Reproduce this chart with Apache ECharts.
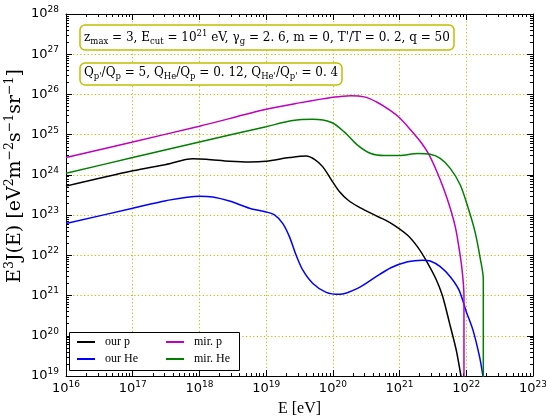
<!DOCTYPE html>
<html>
<head>
<meta charset="utf-8">
<script src="https://cdn.jsdelivr.net/npm/echarts@6/dist/echarts.min.js"></script>
<style>
  html, body { margin: 0; padding: 0; background: #fff; }
  #chart { width: 546px; height: 417px; }
</style>
</head>
<body>
<div id="chart"></div>
<script>
// Energy grid (eV) and E^3 J(E) values (eV^2 m^-2 s^-1 sr^-1) for each spectrum
const energyOurP = [1e16, 1e17, 3.16e17, 7.94e17, 1.26e18, 2.82e18, 5.62e18, 1e19, 2.24e19, 3.98e19,
  5.37e19, 7.08e19, 9.55e19, 1.26e20, 1.70e20, 2.40e20, 3.39e20, 4.79e20, 7.59e20, 1.32e21,
  1.86e21, 2.57e21, 3.47e21, 4.37e21, 5.62e21, 7.08e21, 8.32e21, 8.91e21];
const fluxOurP = [5.25e23, 1.26e24, 1.82e24, 2.51e24, 2.45e24, 2.19e24, 2.09e24, 2.19e24, 2.69e24, 2.95e24,
  2.40e24, 1.58e24, 7.41e23, 3.80e23, 2.34e23, 1.62e23, 1.20e23, 9.12e22, 6.17e22, 3.16e22,
  1.62e22, 6.92e21, 2.69e21, 1.02e21, 2.04e20, 4.37e19, 1e19, 5e18];

const energyOurHe = [1e16, 1e17, 3.16e17, 1e18, 1.58e18, 2.82e18, 5.62e18, 1e19, 1.35e19, 1.78e19,
  2.24e19, 2.82e19, 3.55e19, 5.01e19, 7.94e19, 1.26e20, 2.34e20, 4.17e20, 7.41e20, 1.32e21,
  2.19e21, 2.88e21, 4.07e21, 5.75e21, 7.76e21, 1e22, 1.26e22, 1.58e22, 1.78e22, 1.91e22];
const fluxOurHe = [6.17e22, 1.48e23, 2.29e23, 2.95e23, 2.82e23, 2.24e23, 1.48e23, 1.20e23, 1.0e23, 6.17e22,
  2.88e22, 1.0e22, 4.27e21, 2.0e21, 1.20e21, 1.07e21, 1.51e21, 2.75e21, 4.90e21, 6.92e21,
  7.59e21, 7.24e21, 5.25e21, 2.95e21, 1.38e21, 3.98e20, 1.38e20, 3.02e19, 1e19, 5e18];

const energyMirP = [1e16, 1e17, 1e18, 1e19, 3.16e19, 1e20, 1.86e20, 2.95e20, 4.68e20, 7.41e20,
  1e21, 1.48e21, 2.09e21, 2.75e21, 3.63e21, 4.57e21, 5.75e21, 6.92e21, 7.94e21, 8.71e21,
  9.23e21, 9.23e21];
const fluxMirP = [2.69e24, 6.61e24, 1.62e25, 4.27e25, 6.17e25, 8.51e25, 9.33e25, 8.71e25, 6.31e25, 3.89e25,
  2.63e25, 1.29e25, 6.46e24, 3.24e24, 1.20e24, 4.57e23, 1.48e23, 4.68e22, 1.23e22, 3.89e21,
  1e21, 1e18];

const energyMirHe = [1e16, 1e17, 1e18, 1e19, 2.51e19, 5.01e19, 9.55e19, 1.48e20, 2.34e20, 3.72e20,
  5.89e20, 1e21, 1.86e21, 2.88e21, 4.07e21, 5.75e21, 8.13e21, 1.07e22, 1.35e22, 1.62e22,
  1.80e22, 1.80e22];
const fluxMirHe = [1.10e24, 2.69e24, 6.61e24, 1.58e25, 2.24e25, 2.40e25, 2.0e25, 1.17e25, 5.50e24, 3.39e24,
  3.02e24, 3.02e24, 3.39e24, 3.24e24, 2.57e24, 1.45e24, 5.62e23, 1.48e23, 3.89e22, 8.32e21,
  2.51e21, 1e18];

const seriesNames = ['our p', 'our He', 'mir. p', 'mir. He'];
const seriesColors = ['#000000', '#0000ff', '#bf00bf', '#008000'];

// Decade ticks (labelled) for both axes
const xTicks = [1e16, 1e17, 1e18, 1e19, 1e20, 1e21, 1e22, 1e23];
const yTicks = [1e19, 1e20, 1e21, 1e22, 1e23, 1e24, 1e25, 1e26, 1e27, 1e28];

function minorTicks(decades) {
  const out = [];
  for (let i = 0; i < decades.length - 1; i++) {
    for (let m = 2; m <= 9; m++) out.push(m * decades[i]);
  }
  return out;
}
const xMinor = minorTicks(xTicks);
const yMinor = minorTicks(yTicks);
// keep the last decade label inside the scale extent despite float rounding
function labelValues(ticks) {
  return ticks.map((v, i) => (i === ticks.length - 1 ? v * (1 - 1e-9) : v));
}

function pairs(xs, ys) { return xs.map((x, i) => [x, ys[i]]); }

const SERIF = '"DejaVu Serif", "Liberation Serif", serif';
const SANS = '"DejaVu Sans", sans-serif';
const GRID_COLOR = '#bfbf00';
const PLOT = { left: 66, right: 13, top: 14, bottom: 41 };

const tickRich = {
  b: { fontFamily: SANS, fontSize: 13, lineHeight: 18, color: '#000' },
  s: { fontFamily: SANS, fontSize: 9, lineHeight: 10, verticalAlign: 'top', color: '#000' }
};
function powLabel(v) {
  return '{b|10}{s|' + Math.round(Math.log10(v)) + '}';
}

const mathRich = {
  n: { fontFamily: SERIF, fontSize: 12, fontWeight: 'normal', lineHeight: 17, color: '#000' },
  sub: { fontFamily: SERIF, fontSize: 8.5, fontWeight: 'normal', lineHeight: 9, verticalAlign: 'bottom', color: '#000' },
  sup: { fontFamily: SERIF, fontSize: 8.5, fontWeight: 'normal', lineHeight: 9, verticalAlign: 'top', color: '#000' }
};

// Major-tick axis (grid 0): frame line, decade ticks, optional labels
function majorAxis(position, ticks, extra) {
  return Object.assign({
    type: 'log',
    logBase: 10,
    gridIndex: 0,
    position: position,
    min: ticks[0],
    max: ticks[ticks.length - 1],
    axisLine: { show: true, onZero: false, lineStyle: { color: '#000', width: 1 } },
    axisTick: { show: true, inside: true, length: 6, customValues: ticks, lineStyle: { color: '#000', width: 1 } },
    axisLabel: { show: false },
    splitLine: { show: false },
    minorTick: { show: false }
  }, extra || {});
}
// Minor-tick axis (grid 1, same rectangle): 2..9 ticks in each decade
function minorAxis(position, ticks, minors) {
  return {
    type: 'log',
    logBase: 10,
    gridIndex: 1,
    position: position,
    min: ticks[0],
    max: ticks[ticks.length - 1],
    axisLine: { show: false },
    axisTick: { show: true, inside: true, length: 3, customValues: minors, lineStyle: { color: '#000', width: 1 } },
    axisLabel: { show: false },
    splitLine: { show: false }
  };
}

const gridLineStyle = { color: GRID_COLOR, width: 1, type: [1.2, 2.4] };
const legendText = { fontFamily: '"Liberation Serif", serif', fontSize: 12, lineHeight: 14, color: '#000', padding: [0, 0, 0, 5] };

const option = {
  animation: false,
  backgroundColor: '#fff',
  grid: [
    Object.assign({ containLabel: false, outerBoundsMode: 'none' }, PLOT),
    Object.assign({ containLabel: false, outerBoundsMode: 'none' }, PLOT)
  ],
  xAxis: [
    majorAxis('bottom', xTicks, {
      name: 'E [eV]',
      nameLocation: 'middle',
      nameGap: 24,
      nameTextStyle: { fontFamily: '"Liberation Serif", serif', fontSize: 16, color: '#000' },
      axisLabel: {
        show: true, customValues: labelValues(xTicks), formatter: powLabel, rich: tickRich, margin: 4,
        showMinLabel: true, showMaxLabel: true, hideOverlap: false
      },
      splitLine: { show: true, lineStyle: gridLineStyle }
    }),
    majorAxis('top', xTicks),
    minorAxis('bottom', xTicks, xMinor),
    minorAxis('top', xTicks, xMinor)
  ],
  yAxis: [
    majorAxis('left', yTicks, {
      axisLabel: {
        show: true, customValues: labelValues(yTicks), formatter: powLabel, rich: tickRich, margin: 7,
        showMinLabel: true, showMaxLabel: true, hideOverlap: false
      },
      splitLine: { show: true, lineStyle: gridLineStyle }
    }),
    majorAxis('right', yTicks),
    minorAxis('left', yTicks, yMinor),
    minorAxis('right', yTicks, yMinor)
  ],
  title: [
    {
      text: "{n|z}{sub|max}{n| = 3, E}{sub|cut}{n| = 10}{sup|21}{n| eV, γ}{sub|g}{n| = 2. 6, m = 0, T'/T = 0. 2, q = 50}",
      left: 80, top: 25,
      padding: [4, 4, 4, 4],
      backgroundColor: '#fff',
      borderColor: GRID_COLOR,
      borderWidth: 1.5,
      borderRadius: 5,
      textStyle: { fontWeight: 'normal', rich: mathRich }
    },
    {
      text: "{n|Q}{sub|p'}{n|/Q}{sub|p}{n| = 5, Q}{sub|He}{n|/Q}{sub|p}{n| = 0. 12, Q}{sub|He'}{n|/Q}{sub|p'}{n| = 0. 4}",
      left: 80, top: 60,
      padding: [4, 4, 4, 4],
      backgroundColor: '#fff',
      borderColor: GRID_COLOR,
      borderWidth: 1.5,
      borderRadius: 5,
      textStyle: { fontWeight: 'normal', rich: mathRich }
    }
  ],
  graphic: [
    {
      // y-axis title, rotated to read bottom-to-top
      type: 'text',
      x: 15,
      y: 176,
      rotation: Math.PI / 2,
      style: {
        text: '{n|E}{sup|3}{n|J(E) [eV}{sup|2}{n|m}{sup|−2}{n|s}{sup|−1}{n|sr}{sup|−1}{n|]}',
        align: 'center',
        verticalAlign: 'middle',
        rich: {
          n: { fontFamily: SERIF, fontSize: 19, lineHeight: 23, fill: '#000' },
          sup: { fontFamily: SERIF, fontSize: 12.5, lineHeight: 12, verticalAlign: 'top', fill: '#000' }
        }
      }
    },
    {
      type: 'rect',
      shape: { x: 69.5, y: 332.5, width: 170, height: 38 },
      style: { fill: '#fff', stroke: '#000', lineWidth: 1 },
      z: 90
    }
  ],
  legend: [
    {
      data: [seriesNames[0], seriesNames[1]],
      orient: 'vertical',
      left: 77, top: 335,
      padding: 0,
      itemGap: 3,
      itemWidth: 18,
      itemHeight: 2,
      icon: 'rect',
      z: 100,
      textStyle: legendText
    },
    {
      data: [seriesNames[2], seriesNames[3]],
      orient: 'vertical',
      left: 166, top: 335,
      padding: 0,
      itemGap: 3,
      itemWidth: 18,
      itemHeight: 2,
      icon: 'rect',
      z: 100,
      textStyle: legendText
    }
  ],
  series: [
    [energyOurP, fluxOurP],
    [energyOurHe, fluxOurHe],
    [energyMirP, fluxMirP],
    [energyMirHe, fluxMirHe]
  ].map(([xs, ys], i) => ({
    name: seriesNames[i],
    type: 'line',
    xAxisIndex: 0,
    yAxisIndex: 0,
    data: pairs(xs, ys),
    showSymbol: false,
    symbol: 'none',
    smooth: 0.3,
    clip: true,
    color: seriesColors[i],
    lineStyle: { color: seriesColors[i], width: 1.5 },
    z: 5 + i
  }))
};

const chart = echarts.init(document.getElementById('chart'), null, { renderer: 'canvas' });
chart.setOption(option);
</script>
</body>
</html>
